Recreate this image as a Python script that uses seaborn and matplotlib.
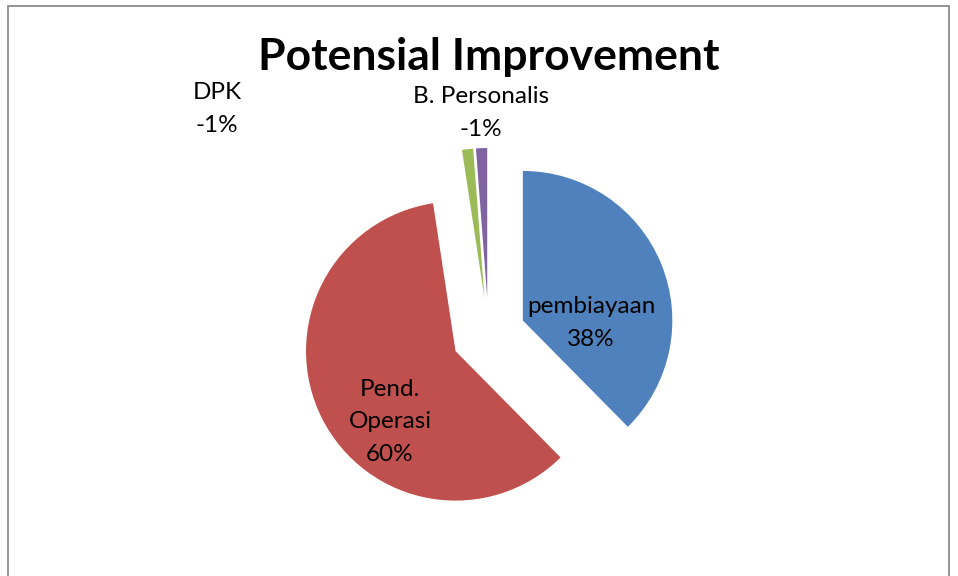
import numpy as np
import matplotlib
matplotlib.use("Agg")
import matplotlib.pyplot as plt
import seaborn as sns
from matplotlib.patches import Rectangle

# data (DPK and B. Personalis are negative)
categories = ["pembiayaan", "Pend.\nOperasi", "DPK", "B. Personalis"]
values = [37.6, 60.0, -1.2, -1.2]
colors = ["#4F81BD", "#C0504D", "#9BBB59", "#8064A2"]

sns.set_theme(style="white")
plt.rcParams['font.family'] = ['Lato', 'DejaVu Sans']

W, H = 958, 576
fig = plt.figure(figsize=(W / 100, H / 100), dpi=100)
ax = fig.add_axes([0, 0, 1, 1])
ax.axis("off")

# chart frame
ax.add_patch(Rectangle((8, -10), 941, H - 6 + 10, fill=False,
                       edgecolor="#8c8c8c", linewidth=1.3))

sizes = np.abs(values)
total = sizes.sum()
radius = 149.5
center = (488.6, H - 334.5)
# explode is in data units here (pixels)
wedges, _ = ax.pie(sizes, colors=colors, startangle=90, counterclock=False,
                   explode=[37] * len(sizes), radius=radius, center=center,
                   wedgeprops=dict(linewidth=0))
ax.set_xlim(0, W)
ax.set_ylim(0, H)
ax.set_aspect("equal")

# label positions (pixels from top-left)
label_xy = [(591, 323), (390, 422), (217, 109), (481, 113)]
for name, v, (lx, ly) in zip(categories, values, label_xy):
    pct = v / total * 100
    ax.text(lx, H - ly, f"{name}\n{pct:.0f}%", ha="center", va="center",
            fontsize=17.5, color="black", linespacing=1.65)

ax.text(489, H - 57, "Potensial Improvement", ha="center", va="center",
        fontsize=32, fontweight="bold", color="black")

fig.savefig("out.png", dpi=100)
